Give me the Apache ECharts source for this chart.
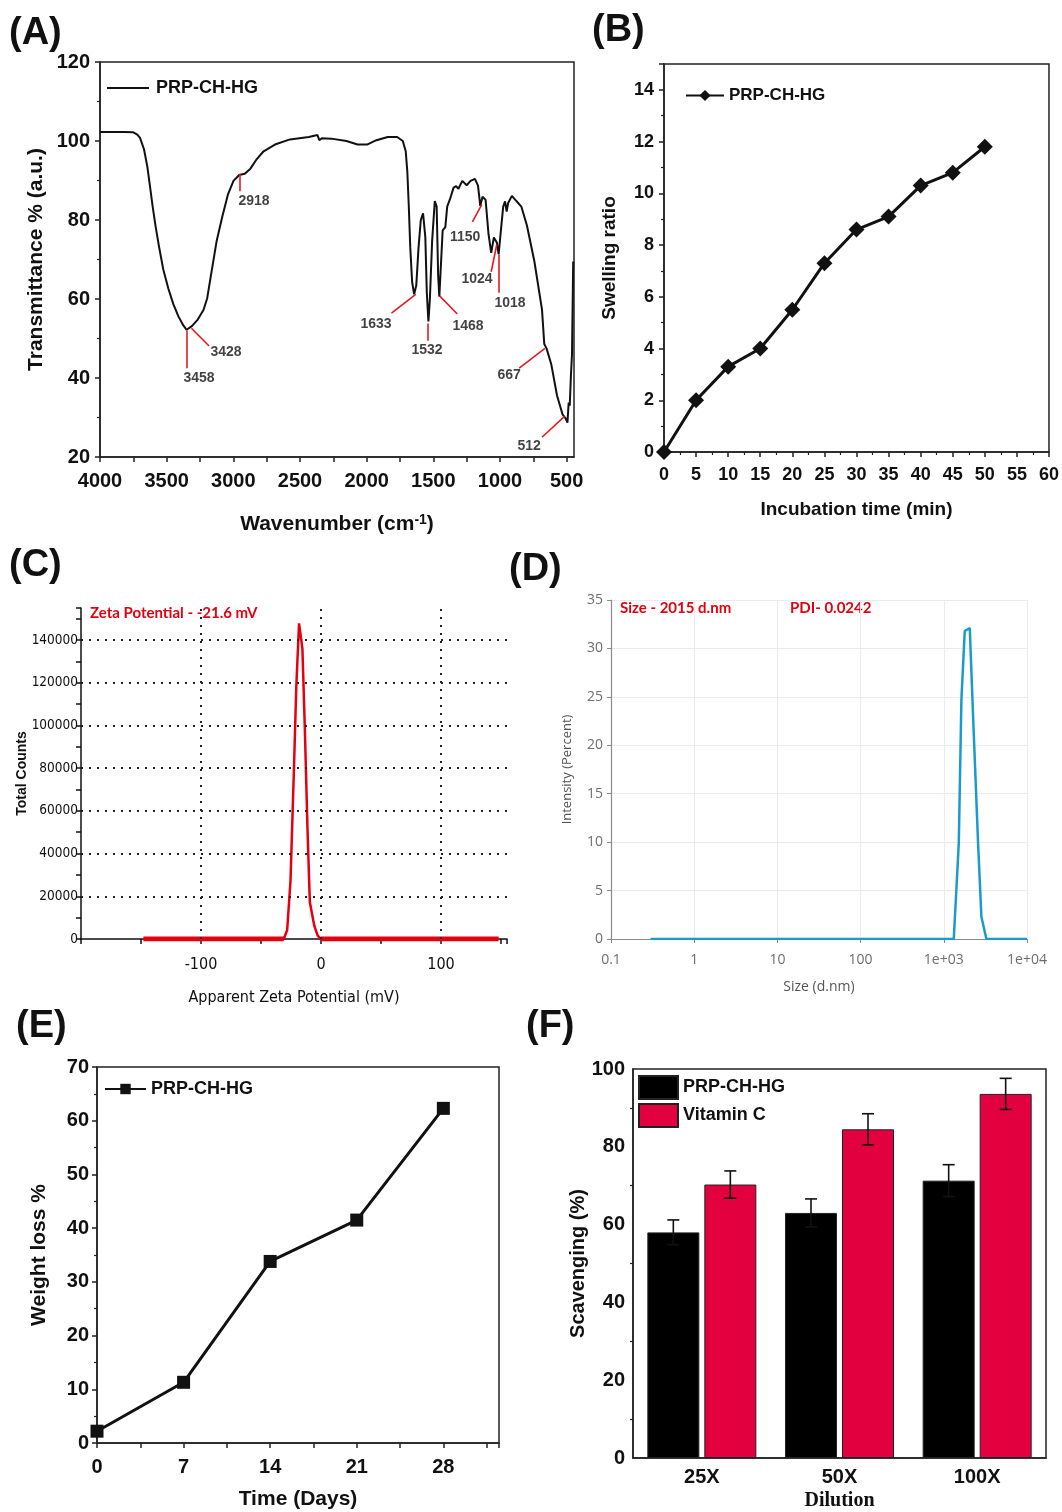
<!DOCTYPE html>
<html>
<head>
<meta charset="utf-8">
<script src="https://cdn.jsdelivr.net/npm/echarts@6.0.0/dist/echarts.min.js"></script>
<style>
html,body{margin:0;padding:0;background:#fff;}
#c{width:1062px;height:1512px;}
</style>
</head>
<body>
<div id="c"></div>
<script>
// ---------- DATA ----------
// (A) FTIR spectrum
const ftirWavenumber = [4000,3817,3750,3720,3700,3670,3645,3625,3605,3583,3557,3525,3487,3450,3412,3375,3350,3309,3267,3224,3196,3168,3125,3083,3041,2999,2956,2914,2872,2829,2773,2688,2575,2434,2369,2355,2336,2265,2152,2068,1997,1927,1842,1771,1729,1707,1695,1684,1673,1659,1644,1628,1611,1594,1577,1560,1549,1537,1526,1509,1489,1475,1464,1455,1441,1430,1410,1396,1376,1348,1329,1312,1283,1250,1221,1188,1165,1148,1131,1108,1086,1066,1046,1035,1024,1010,996,976,962,950,939,911,877,840,798,742,685,668,651,615,572,530,508,494,485,477,468,460,451];
const ftirTransmittance = [102.3,102.3,102.2,101.6,100.8,97.9,93.5,88.5,83.4,78.4,73.2,67.4,62.6,58.7,55.6,53.3,52.2,53.2,54.8,57.2,60.2,66.0,74.7,80.8,86.4,89.9,91.4,91.7,93.0,95.2,97.4,99.1,100.4,101.0,101.5,100.2,100.7,100.6,100.0,99.1,99.1,100.2,101.0,101.0,100.0,97.4,92.2,83.4,73.0,64.3,61.2,63.4,73.0,80.0,81.7,75.6,61.7,54.3,59.9,74.7,84.8,83.4,66.0,60.6,60.8,77.4,78.2,83.4,85.2,88.2,88.6,87.9,89.9,88.8,89.9,90.4,88.7,83.6,85.9,85.1,76.4,71.7,75.6,76.0,74.3,71.3,76.4,83.4,84.7,82.1,84.3,86.1,84.8,83.4,78.6,69.5,57.3,48.6,47.5,43.4,35.5,30.7,29.8,28.7,33.8,33.0,40.7,46.0,69.5];
const ftirTickLabels = [4000,3500,3000,2500,2000,1500,1000,500];
const ftirTicks = [4000,3750,3500,3250,3000,2750,2500,2250,2000,1750,1500,1250,1000,750,500];
// peak annotations (data coordinates: wavenumber, transmittance)
const ftirNoteText = ['2918','3458','3428','1633','1532','1468','1150','1024','1018','667','512'];
const ftirNoteFrom = [[2951,91.7],[3350,52.0],[3314,52.6],[1632,61.2],[1543,53.8],[1453,60.8],[1137,83.9],[1024,73.8],[1007,71.2],[663,47.5],[516,30.3]];
const ftirNoteTo   = [[2951,87.3],[3350,42.5],[3182,48.1],[1814,56.4],[1543,49.4],[1320,56.2],[1207,79.5],[1066,66.9],[1007,61.6],[856,42.5],[685,25.0]];
const ftirNoteAt   = [[2845,84.8],[3257,40.0],[3055,46.6],[1930,53.6],[1547,47.0],[1240,53.1],[1262,75.6],[1172,65.0],[925,58.9],[932,40.7],[782,22.7]];

// (B) Swelling
const swellTime = [0,5,10,15,20,25,30,35,40,45,50];
const swellRatio = [0,2.0,3.3,4.0,5.5,7.3,8.6,9.1,10.3,10.8,11.8];

// (C) Zeta potential
const zetaMv = [-148,-31,-28.2,-25.4,-22.5,-20.6,-18.3,-15.5,-13.5,-11.3,-9.3,-5.6,-2.8,0,148];
const zetaCounts = [0,0,4200,27400,80600,118000,147800,136000,99300,52400,17200,6250,1560,0,0];
const zetaTickLabels = [-100,0,100];
const zetaGridY = [20000,40000,60000,80000,100000,120000,140000];
const zetaGridX = [-100,0,100];

// (D) DLS size distribution
const dlsSize = [0.3,1318,1514,1628,1786,2052,2249,2582,2831,3251,10000];
const dlsIntensity = [0,0,9.9,24.7,31.8,32.1,23.0,9.9,2.3,0,0];

// (E) Degradation
const degradeDays = [0,7,14,21,28];
const weightLoss = [2.2,11.3,33.8,41.5,62.3];

// (F) Scavenging
const dilutions = ['25X','50X','100X'];
const prpScav = [58.0,63.0,71.3];
const prpErr = [3.2,3.6,4.1];
const vitcScav = [70.3,84.5,93.6];
const vitcErr = [3.5,4.0,4.0];

// ---------- STYLE ----------
const SANS = "'Liberation Sans', Arial, Helvetica, sans-serif";
const NARROW = "'Liberation Sans Narrow', 'DejaVu Sans Condensed', 'Liberation Sans', sans-serif";
const SOFT = "'Open Sans', 'Noto Sans', sans-serif";
const RED = '#e3000f';
const AX = '#222';
const BAR_W = 52, BAR_GAP = 5;

function boldLabel(size){ return {fontFamily:SANS, fontWeight:'bold', fontSize:size, color:'#111'}; }
function boxAxisLine(){ return {show:true, onZero:false, lineStyle:{color:AX, width:1.5}}; }

const chart = echarts.init(document.getElementById('c'), null, {renderer:'canvas', width:1062, height:1512});

const frame = {show:true, borderColor:AX, borderWidth:1.5, backgroundColor:'rgba(0,0,0,0)'};

const option = {
  animation:false,
  backgroundColor:'#fff',
  textStyle:{fontFamily:SANS},
  grid:[
    Object.assign({left:100, top:62, width:474, height:395}, frame),   // A
    Object.assign({left:664, top:64, width:387, height:388}, frame),   // B
    {left:81, top:608, width:426, height:331, show:false},             // C
    {left:611, top:600, width:416, height:339, show:false},            // D
    Object.assign({left:97, top:1067, width:402, height:376}, frame),  // E
    Object.assign({left:633, top:1069, width:413, height:389}, frame)  // F
  ],
  xAxis:[
    { // A
      gridIndex:0, type:'value', inverse:true, min:445, max:4000,
      axisLine:boxAxisLine(),
      axisTick:{show:true, customValues:ftirTicks, length:5, lineStyle:{color:AX, width:1.5}},
      axisLabel:Object.assign({customValues:ftirTickLabels, margin:14, formatter:v => String(v)}, boldLabel(20)),
      splitLine:{show:false},
      name:'Wavenumber (cm{sup|-1})', nameLocation:'middle', nameGap:56,
      nameTextStyle:{fontFamily:SANS, fontWeight:'bold', fontSize:21, color:'#111',
        rich:{sup:{fontFamily:SANS, fontWeight:'bold', fontSize:14, color:'#111', verticalAlign:'top', lineHeight:22}}}
    },
    { // B
      gridIndex:1, type:'value', min:0, max:60, interval:5,
      axisLine:boxAxisLine(),
      axisTick:{length:5, lineStyle:{color:AX, width:1.5}},
      minorTick:{show:true, splitNumber:2, length:3, lineStyle:{color:AX, width:1.2}},
      axisLabel:Object.assign({margin:14}, boldLabel(18)),
      splitLine:{show:false},
      name:'Incubation time (min)', nameLocation:'middle', nameGap:48,
      nameTextStyle:boldLabel(19)
    },
    { // C
      gridIndex:2, type:'value', min:-200, max:155, interval:50,
      axisLine:{show:true, onZero:false, lineStyle:{color:'#111', width:1.5}},
      axisTick:{length:5, lineStyle:{color:'#111', width:1.5}},
      axisLabel:{fontFamily:NARROW, fontSize:16, color:'#111', margin:18,
        formatter:v => zetaTickLabels.indexOf(v) >= 0 ? String(v) : ''},
      splitLine:{show:false},
      name:'Apparent Zeta Potential (mV)', nameLocation:'middle', nameGap:51, nameMoveOverlap:false,
      nameTextStyle:{fontFamily:NARROW, fontSize:16, color:'#111'}
    },
    { // D
      gridIndex:3, type:'log', logBase:10, min:0.1, max:10000,
      axisLine:{show:true, onZero:false, lineStyle:{color:'#8a8a8a', width:1.2}},
      axisTick:{length:4, lineStyle:{color:'#8a8a8a'}},
      axisLabel:{fontFamily:SOFT, fontSize:14, color:'#6e6e6e', margin:14,
        formatter:v => v >= 1000 ? '1e+0' + Math.round(Math.log10(v)) : String(v)},
      splitLine:{show:true, lineStyle:{color:'#ebebeb', width:1}},
      name:'Size (d.nm)', nameLocation:'middle', nameGap:41, nameMoveOverlap:false,
      nameTextStyle:{fontFamily:SOFT, fontSize:14, color:'#555'}
    },
    { // E
      gridIndex:4, type:'value', min:0, max:32.5, interval:3.5,
      axisLine:boxAxisLine(),
      axisTick:{length:5, lineStyle:{color:AX, width:1.5}},
      axisLabel:Object.assign({margin:14, formatter:v => (Math.abs(v/7 - Math.round(v/7)) < 1e-6) ? String(Math.round(v)) : ''}, boldLabel(20)),
      splitLine:{show:false},
      name:'Time (Days)', nameLocation:'middle', nameGap:46, nameMoveOverlap:false,
      nameTextStyle:boldLabel(21)
    },
    { // F
      gridIndex:5, type:'category', data:dilutions,
      axisLine:boxAxisLine(),
      axisTick:{show:false},
      axisLabel:Object.assign({margin:9}, boldLabel(20)),
      splitLine:{show:false},
      name:'Dilution', nameLocation:'middle', nameGap:33, nameMoveOverlap:false,
      nameTextStyle:{fontFamily:"'Liberation Serif', 'Times New Roman', serif", fontWeight:'bold', fontSize:20, color:'#111'}
    }
  ],
  yAxis:[
    { // A
      gridIndex:0, type:'value', min:20, max:120, interval:20,
      axisLine:boxAxisLine(),
      axisTick:{length:5, lineStyle:{color:AX, width:1.5}},
      minorTick:{show:true, splitNumber:2, length:3, lineStyle:{color:AX, width:1.2}},
      axisLabel:Object.assign({margin:10}, boldLabel(20)),
      splitLine:{show:false},
      name:'Transmittance % (a.u.)', nameLocation:'middle', nameGap:53, nameMoveOverlap:false,
      nameTextStyle:boldLabel(21)
    },
    { // B
      gridIndex:1, type:'value', min:0, max:15, interval:2,
      axisLine:boxAxisLine(),
      axisTick:{length:5, lineStyle:{color:AX, width:1.5}},
      minorTick:{show:true, splitNumber:2, length:3, lineStyle:{color:AX, width:1.2}},
      axisLabel:Object.assign({margin:10, formatter:v => v % 2 === 0 ? String(v) : ''}, boldLabel(18)),
      splitLine:{show:false},
      name:'Swelling ratio', nameLocation:'middle', nameGap:45, nameMoveOverlap:false,
      nameTextStyle:boldLabel(19)
    },
    { // C
      gridIndex:2, type:'value', min:0, max:155000, interval:20000,
      axisLine:{show:true, onZero:false, lineStyle:{color:'#111', width:1.5}},
      axisTick:{length:5, lineStyle:{color:'#111', width:1.5}},
      minorTick:{show:true, splitNumber:2, length:5, lineStyle:{color:'#111', width:1.5}},
      axisLabel:{fontFamily:NARROW, fontSize:13.5, color:'#111', margin:3,
        formatter:v => v % 20000 === 0 ? String(v) : ''},
      splitLine:{show:false},
      name:'Total Counts', nameLocation:'middle', nameGap:52, nameMoveOverlap:false,
      nameTextStyle:{fontFamily:SANS, fontWeight:'bold', fontSize:14, color:'#111'}
    },
    { // D
      gridIndex:3, type:'value', min:0, max:35, interval:5,
      axisLine:{show:true, onZero:false, lineStyle:{color:'#8a8a8a', width:1.2}},
      axisTick:{show:true, length:4, lineStyle:{color:'#8a8a8a'}},
      axisLabel:{fontFamily:SOFT, fontSize:14, color:'#6e6e6e', margin:8},
      splitLine:{show:true, lineStyle:{color:'#ebebeb', width:1}},
      name:'Intensity (Percent)', nameLocation:'middle', nameGap:37, nameMoveOverlap:false,
      nameTextStyle:{fontFamily:SOFT, fontSize:13, color:'#555'}
    },
    { // E
      gridIndex:4, type:'value', min:0, max:70, interval:10,
      axisLine:boxAxisLine(),
      axisTick:{length:5, lineStyle:{color:AX, width:1.5}},
      minorTick:{show:true, splitNumber:2, length:3, lineStyle:{color:AX, width:1.2}},
      axisLabel:Object.assign({margin:8}, boldLabel(20)),
      splitLine:{show:false},
      name:'Weight loss %', nameLocation:'middle', nameGap:47, nameMoveOverlap:false,
      nameTextStyle:boldLabel(21)
    },
    { // F
      gridIndex:5, type:'value', min:0, max:100, interval:20,
      axisLine:boxAxisLine(),
      axisTick:{length:5, lineStyle:{color:AX, width:1.5}},
      minorTick:{show:true, splitNumber:2, length:3, lineStyle:{color:AX, width:1.2}},
      axisLabel:Object.assign({margin:8}, boldLabel(20)),
      splitLine:{show:false},
      name:'Scavenging (%)', nameLocation:'middle', nameGap:45, nameMoveOverlap:false,
      nameTextStyle:boldLabel(20)
    }
  ],
  legend:[
    {data:['A:PRP-CH-HG'], left:107, top:79, padding:0, icon:'rect', itemWidth:42, itemHeight:2, selectedMode:false,
      formatter:n => n.split(':')[1], textStyle:Object.assign({padding:[0,0,0,2]}, boldLabel(18))},
    {data:['B:PRP-CH-HG'], left:685, top:87, padding:0, itemWidth:38, itemHeight:14, selectedMode:false,
      formatter:n => n.split(':')[1], textStyle:boldLabel(17)},
    {data:['E:PRP-CH-HG'], left:104, top:1080, padding:0, itemWidth:41, itemHeight:13, selectedMode:false,
      formatter:n => n.split(':')[1], textStyle:boldLabel(18)},
    {data:['F:PRP-CH-HG','F:Vitamin C'], left:638, top:1075, padding:0, orient:'vertical', itemGap:3,
      itemWidth:39, itemHeight:23, selectedMode:false, icon:'rect',
      formatter:n => n.split(':')[1], textStyle:boldLabel(18)}
  ],
  series:[
    { // A spectrum
      name:'A:PRP-CH-HG', type:'line', xAxisIndex:0, yAxisIndex:0,
      data:ftirWavenumber.map((w,i) => [w, ftirTransmittance[i]]),
      symbol:'none', lineStyle:{color:'#111', width:2}, itemStyle:{color:'#111'}, z:3,
      markLine:{silent:true, symbol:['none','none'], label:{show:false},
        lineStyle:{color:'#e01b24', width:1.6, type:'solid'},
        data:ftirNoteFrom.map((p,i) => [{coord:p}, {coord:ftirNoteTo[i]}])}
    },
    { // A peak labels
      name:'A:notes', type:'scatter', xAxisIndex:0, yAxisIndex:0, symbolSize:0, silent:true,
      data:ftirNoteAt.map((p,i) => ({value:p, label:{formatter:ftirNoteText[i]}})),
      label:{show:true, position:'inside', fontFamily:SANS, fontWeight:'bold', fontSize:14, color:'#111'}
    },
    { // B
      name:'B:PRP-CH-HG', type:'line', xAxisIndex:1, yAxisIndex:1,
      data:swellTime.map((t,i) => [t, swellRatio[i]]),
      symbol:'diamond', symbolSize:16, lineStyle:{color:'#111', width:3}, itemStyle:{color:'#111'}
    },
    { // C curve + grid
      name:'C:base', type:'line', xAxisIndex:2, yAxisIndex:2, z:2,
      data:zetaMv.map((m,i) => [m, zetaCounts[i]]),
      symbol:'none', lineStyle:{color:RED, width:2.5}, itemStyle:{color:RED},
      markLine:{silent:true, symbol:['none','none'], label:{show:false},
        lineStyle:{color:'#222', width:2, type:[2,6]},
        data:zetaGridY.map(v => ({yAxis:v})).concat(zetaGridX.map(v => ({xAxis:v})))}
    },
    { // C thick zero segments
      name:'C:zero', type:'line', xAxisIndex:2, yAxisIndex:2, z:3,
      data:zetaMv.map((m,i) => [m, (zetaCounts[i] === 0 && ((i > 0 && zetaCounts[i-1] === 0) || (i < zetaCounts.length-1 && zetaCounts[i+1] === 0))) ? 0 : '-']),
      symbol:'none', connectNulls:false, lineStyle:{color:RED, width:5}
    },
    { // D
      name:'D:size', type:'line', xAxisIndex:3, yAxisIndex:3,
      data:dlsSize.map((s,i) => [s, dlsIntensity[i]]),
      symbol:'none', lineStyle:{color:'#1a9bcb', width:2.5}, itemStyle:{color:'#1a9bcb'}
    },
    { // E
      name:'E:PRP-CH-HG', type:'line', xAxisIndex:4, yAxisIndex:4,
      data:degradeDays.map((d,i) => [d, weightLoss[i]]),
      symbol:'rect', symbolSize:13, lineStyle:{color:'#111', width:3}, itemStyle:{color:'#111'}
    },
    { // F bars
      name:'F:PRP-CH-HG', type:'bar', xAxisIndex:5, yAxisIndex:5,
      data:prpScav, barWidth:BAR_W, barGap:(BAR_GAP/BAR_W*100)+'%',
      itemStyle:{color:'#000', borderColor:'#222', borderWidth:1}
    },
    {
      name:'F:Vitamin C', type:'bar', xAxisIndex:5, yAxisIndex:5,
      data:vitcScav, barWidth:BAR_W, barGap:(BAR_GAP/BAR_W*100)+'%',
      itemStyle:{color:'#e3003f', borderColor:'#222', borderWidth:1}
    },
    { // F error bars
      name:'F:err', type:'custom', xAxisIndex:5, yAxisIndex:5, z:10, silent:true,
      data:dilutions.map((d,i) => [i, prpScav[i], prpErr[i], 0]).concat(dilutions.map((d,i) => [i, vitcScav[i], vitcErr[i], 1])),
      renderItem:function(params, api){
        const i = api.value(0), v = api.value(1), e = api.value(2), s = api.value(3);
        const off = (s === 0 ? -1 : 1) * (BAR_W + BAR_GAP) / 2;
        const c = api.coord([i, v]);
        const hi = api.coord([i, v + e]);
        const lo = api.coord([i, v - e]);
        const x = c[0] + off;
        const st = {stroke:'#111', lineWidth:1.6};
        return {type:'group', children:[
          {type:'line', shape:{x1:x, y1:hi[1], x2:x, y2:lo[1]}, style:st},
          {type:'line', shape:{x1:x-6, y1:hi[1], x2:x+6, y2:hi[1]}, style:st},
          {type:'line', shape:{x1:x-6, y1:lo[1], x2:x+6, y2:lo[1]}, style:st}
        ]};
      }
    }
  ],
  graphic:[
    {type:'text', left:9, top:15, style:{text:'(A)', font:"bold 38px " + SANS, fill:'#111'}},
    {type:'text', left:592, top:12, style:{text:'(B)', font:"bold 38px " + SANS, fill:'#111'}},
    {type:'text', left:9, top:547, style:{text:'(C)', font:"bold 38px " + SANS, fill:'#111'}},
    {type:'text', left:509, top:551, style:{text:'(D)', font:"bold 38px " + SANS, fill:'#111'}},
    {type:'text', left:16, top:1008, style:{text:'(E)', font:"bold 38px " + SANS, fill:'#111'}},
    {type:'text', left:526, top:1008, style:{text:'(F)', font:"bold 38px " + SANS, fill:'#111'}},
    {type:'text', left:90, top:606, style:{text:'Zeta Potential - -21.6 mV', font:"bold 15px 'Lato', 'Noto Sans', sans-serif", fill:RED}},
    {type:'text', left:620, top:601, style:{text:'Size - 2015 d.nm', font:"bold 15px 'Lato', 'Noto Sans', sans-serif", fill:RED}},
    {type:'text', left:790, top:601, style:{text:'PDI- 0.0242', font:"bold 15px 'Lato', 'Noto Sans', sans-serif", fill:RED}}
  ]
};
chart.setOption(option);
</script>
</body>
</html>
